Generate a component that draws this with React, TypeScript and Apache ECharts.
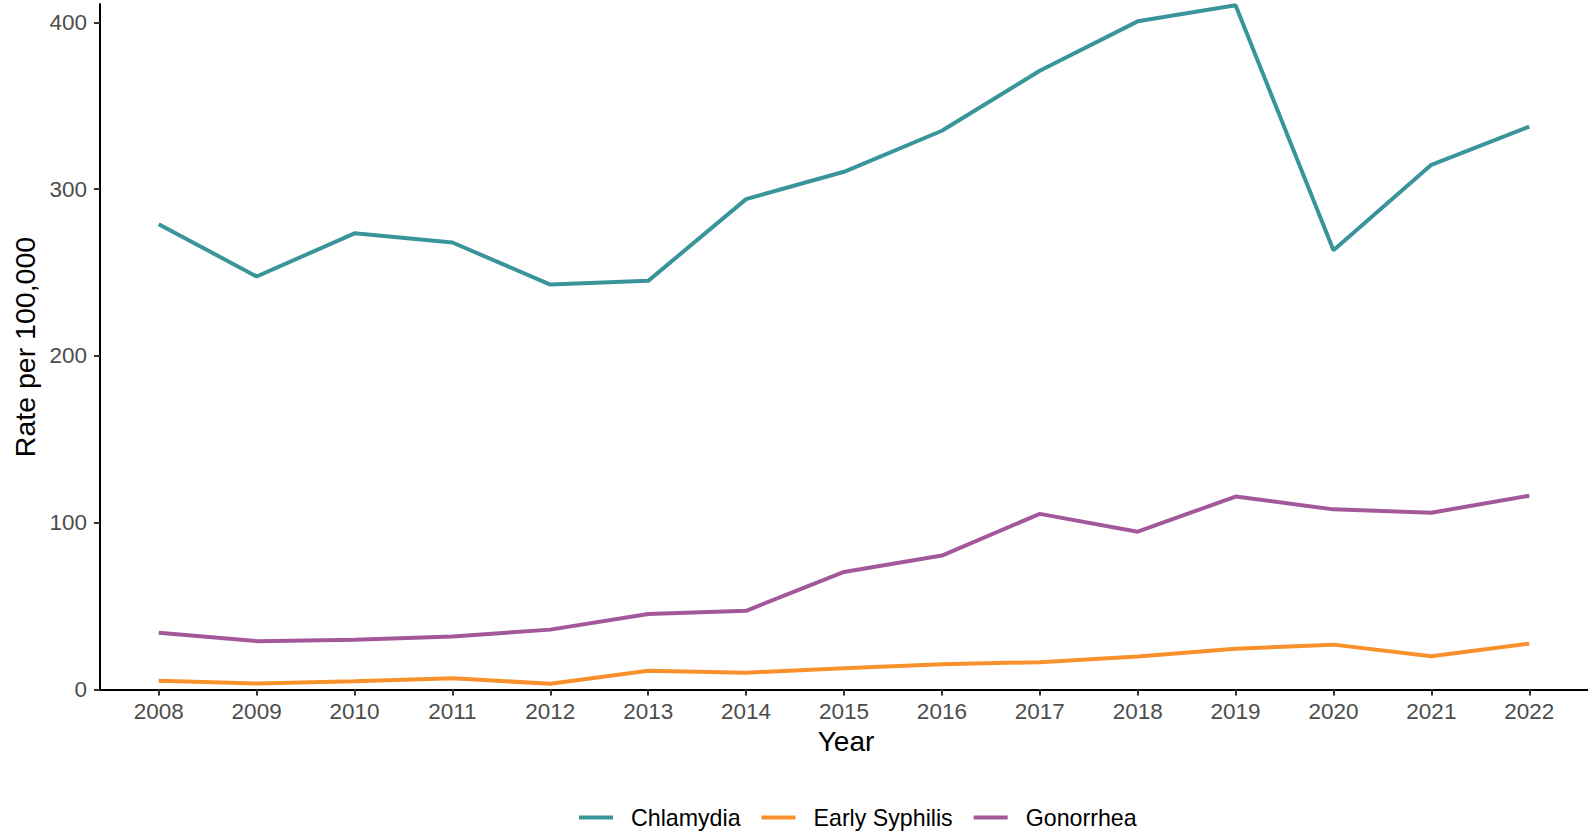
import React, { useEffect, useRef } from "react";
import * as echarts from "echarts";

const years = [2008, 2009, 2010, 2011, 2012, 2013, 2014, 2015, 2016, 2017, 2018, 2019, 2020, 2021, 2022];
const chlamydia = [279, 247.6, 273.5, 268, 242.8, 245, 294, 310.4, 335, 371, 400.6, 410.3, 263.3, 314.6, 337.5];
const earlySyphilis = [5.3, 3.6, 5, 6.8, 3.4, 11.2, 10.1, 12.7, 15.2, 16.4, 19.8, 24.5, 26.9, 20, 27.5];
const gonorrhea = [34, 29, 29.8, 31.8, 35.9, 45.3, 47.2, 70.5, 80.3, 105.3, 94.6, 115.7, 108, 106, 116.2];
const yTicks = [0, 100, 200, 300, 400];
const seriesNames = ["Chlamydia", "Early Syphilis", "Gonorrhea"];
const seriesColors = ["#3A959B", "#F8912B", "#A3589A"];

export default function App() {
  const ref = useRef<HTMLDivElement>(null);
  useEffect(() => {
    if (!ref.current) return;
    const chart = echarts.init(ref.current, null, { renderer: "svg" });
    const allData = [chlamydia, earlySyphilis, gonorrhea];
    const font = "'Liberation Sans', Arial, sans-serif";
    chart.setOption({
      animation: false,
      textStyle: { fontFamily: font },
      grid: { left: 100, right: 0, top: 4, bottom: 146.5, containLabel: false },
      xAxis: {
        type: "value",
        min: 2007.4,
        max: 2022.6,
        splitLine: { show: false },
        axisLine: { show: true, lineStyle: { color: "#000", width: 2 } },
        axisTick: { show: true, customValues: years, length: 6, lineStyle: { color: "#333", width: 2 } },
        axisLabel: {
          customValues: years,
          formatter: (v: number) => String(v),
          color: "#4D4D4D",
          fontSize: 22.5,
          margin: 10,
          fontFamily: font,
        },
      },
      yAxis: {
        type: "value",
        min: 0,
        max: 411,
        splitLine: { show: false },
        axisLine: { show: true, lineStyle: { color: "#000", width: 2 } },
        axisTick: { show: true, customValues: yTicks, length: 6, lineStyle: { color: "#333", width: 2 } },
        axisLabel: { customValues: yTicks, color: "#4D4D4D", fontSize: 22.5, margin: 13, fontFamily: font },
      },
      legend: {
        left: 574,
        top: 801,
        icon: "rect",
        itemWidth: 34,
        itemHeight: 4,
        itemGap: 21,
        textStyle: { color: "#000", fontSize: 23.2, fontFamily: font, padding: [0, 0, 0, 13] },
        data: seriesNames,
      },
      graphic: [
        {
          type: "text",
          x: 846,
          y: 741,
          style: { text: "Year", fontSize: 28, fill: "#000", align: "center", verticalAlign: "middle", fontFamily: font },
        },
        {
          type: "text",
          x: 25,
          y: 347,
          rotation: Math.PI / 2,
          style: { text: "Rate per 100,000", fontSize: 28.5, fill: "#000", align: "center", verticalAlign: "middle", fontFamily: font },
        },
      ],
      series: seriesNames.map((name, i) => ({
        name,
        type: "line",
        data: years.map((y, j) => [y, allData[i][j]]),
        showSymbol: false,
        symbol: "none",
        lineStyle: { color: seriesColors[i], width: 4 },
        itemStyle: { color: seriesColors[i] },
      })),
    });
    return () => chart.dispose();
  }, []);
  return <div ref={ref} style={{ position: "absolute", left: 0, top: 0, width: 1588, height: 836 }} />;
}
